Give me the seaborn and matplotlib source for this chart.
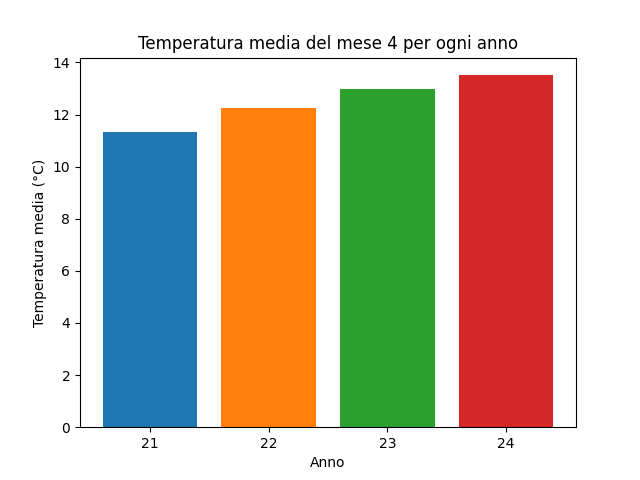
import matplotlib
matplotlib.use("Agg")
import matplotlib.pyplot as plt
import seaborn as sns

# temperatura media di aprile per anno
anni = ["21", "22", "23", "24"]
temperature = [11.32, 12.24, 12.97, 13.51]
colori = ["#1f77b4", "#ff7f0e", "#2ca02c", "#d62728"]

fig, ax = plt.subplots(figsize=(6.4, 4.8), dpi=100)
sns.barplot(x=anni, y=temperature, hue=anni, palette=colori, legend=False,
            width=0.8, saturation=1, ax=ax)
ax.set_xlim(-0.59, 3.59)
ax.set_ylim(0, max(temperature) * 1.05)
ax.set_xlabel("Anno")
ax.set_ylabel("Temperatura media (°C)")
ax.set_title("Temperatura media del mese 4 per ogni anno")
plt.savefig("out.png")
plt.close()
